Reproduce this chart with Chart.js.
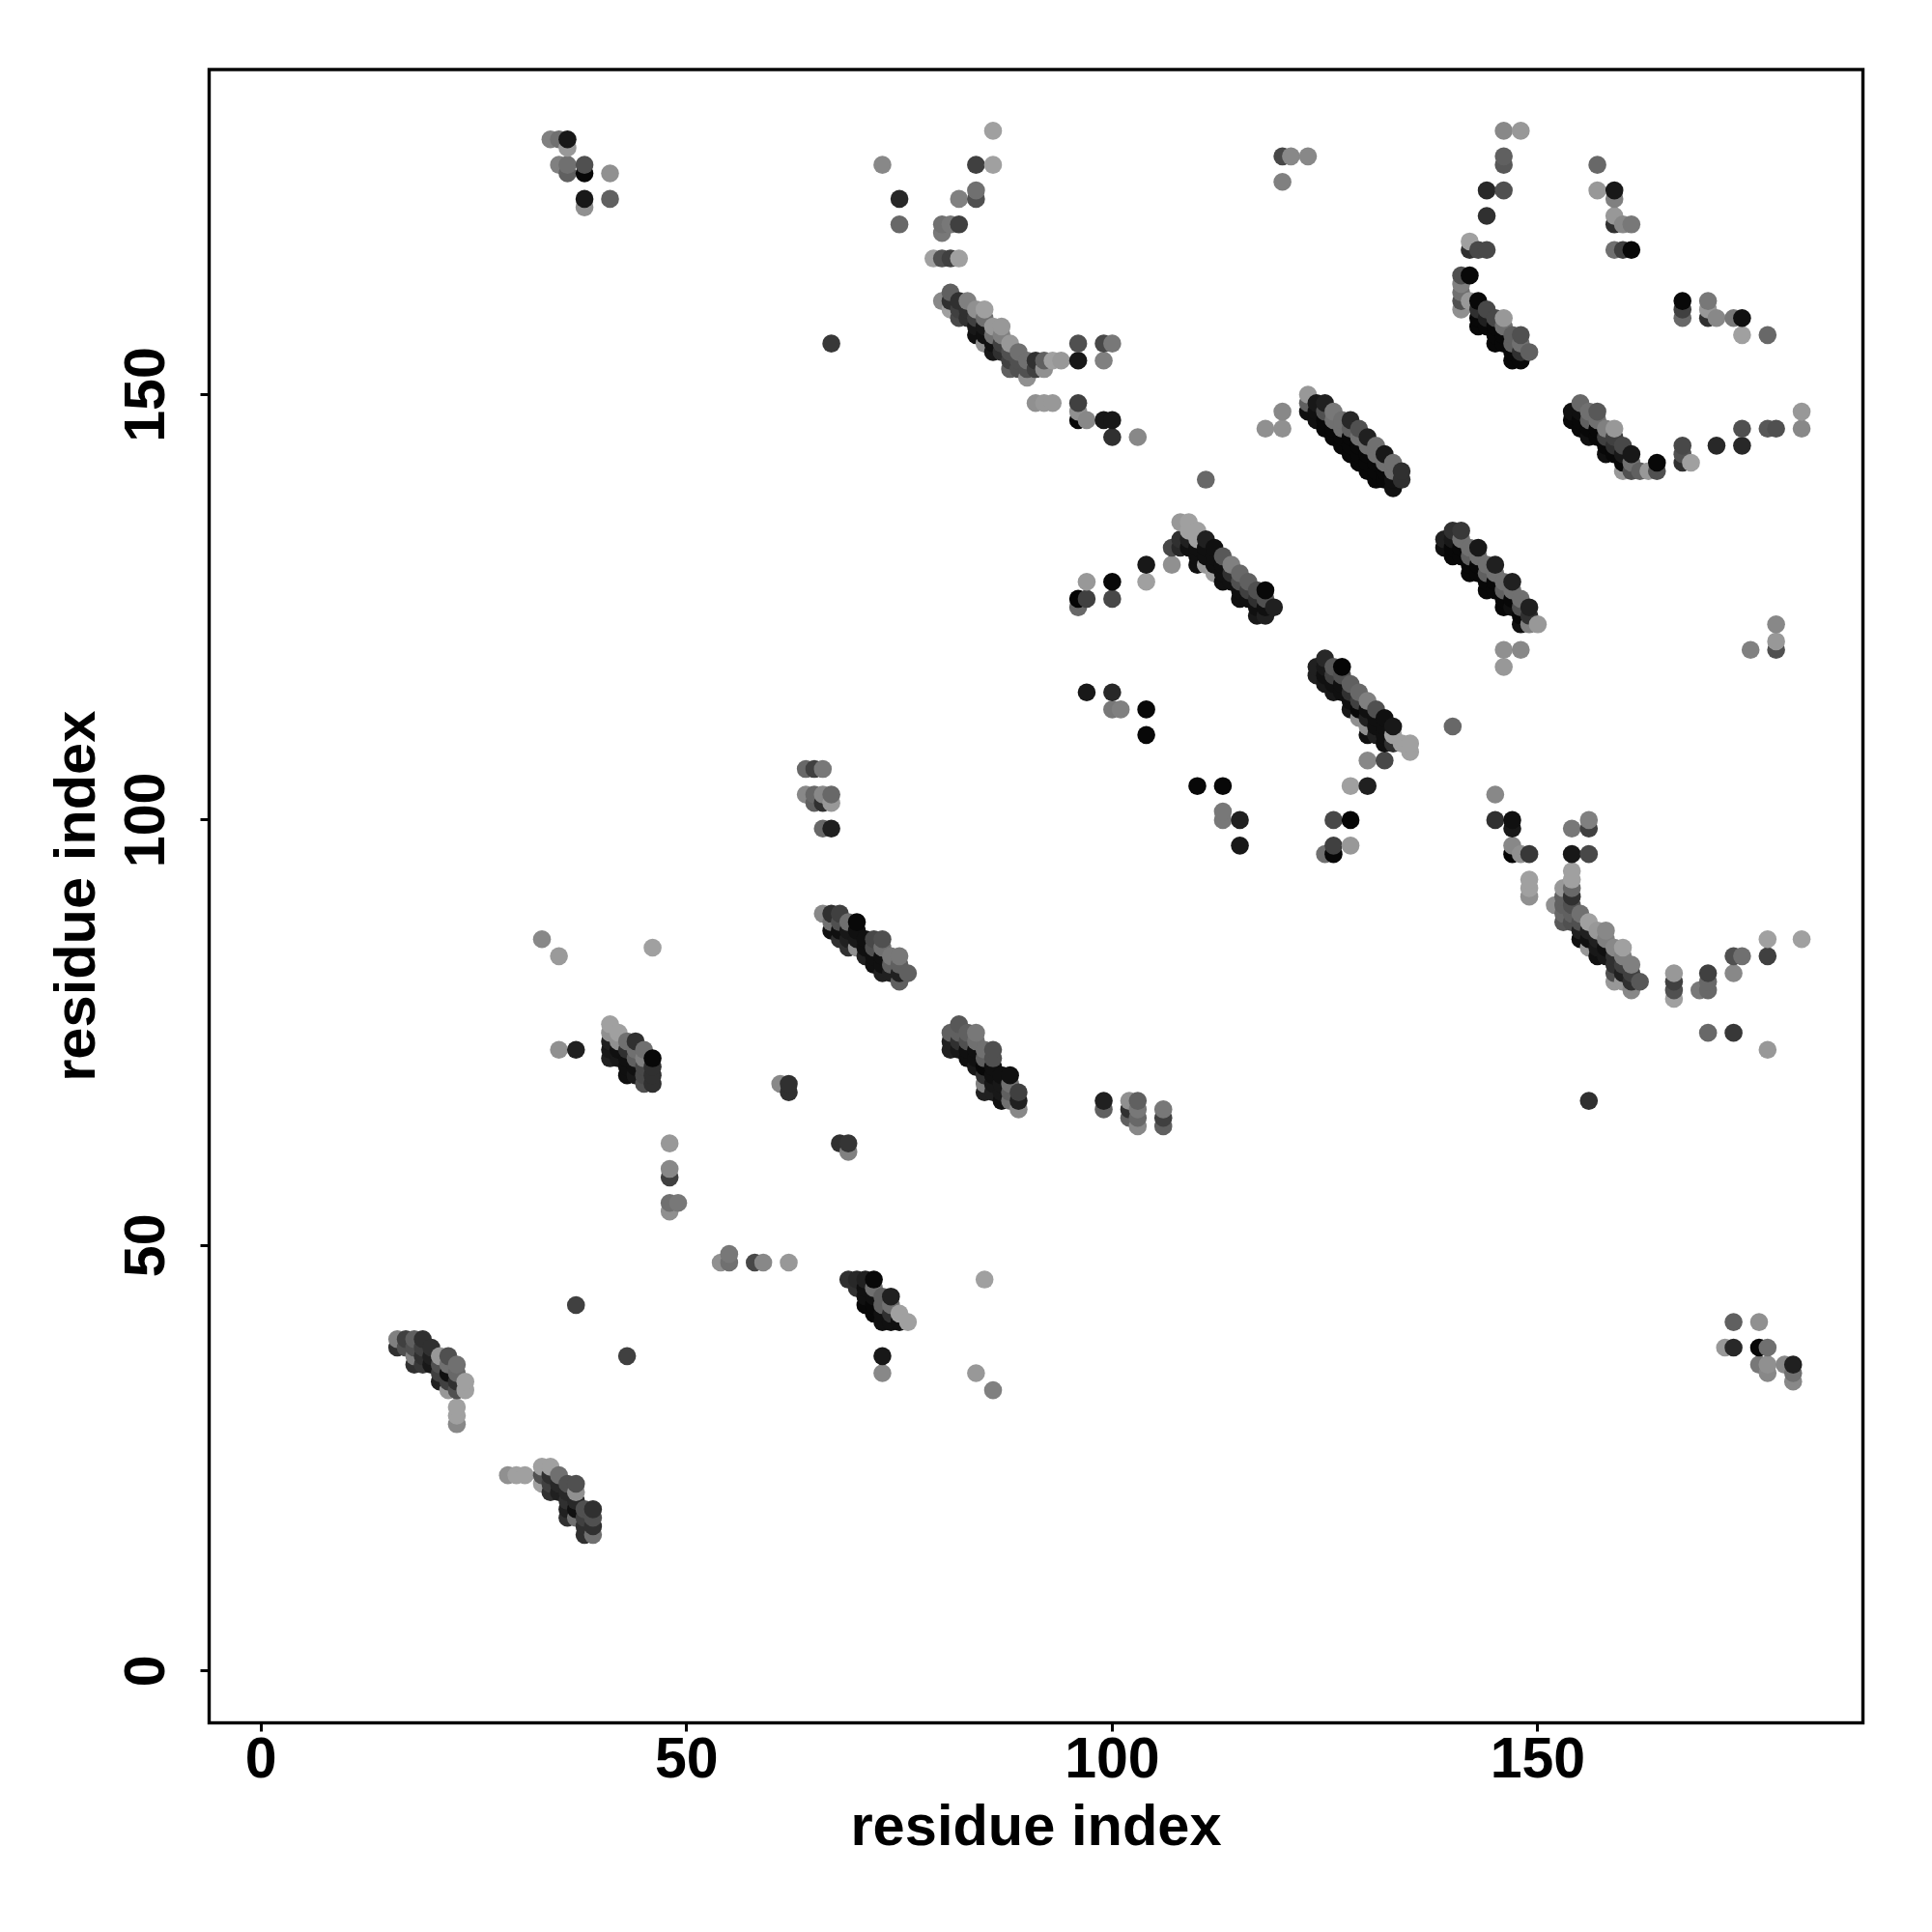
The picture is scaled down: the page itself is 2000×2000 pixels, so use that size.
<!DOCTYPE html>
<html><head><meta charset="utf-8">
<script src="https://cdn.jsdelivr.net/npm/chart.js@4"></script>
<style>html,body{margin:0;padding:0;background:#fff}canvas{display:block}</style>
</head><body><canvas id="c" width="2000" height="2000"></canvas>
<script>
// Each contact: [residue x, residue y, grey level]
const clusterLowA = [[16,38,0x30],[16,39,0x80],[17,38,0x50],[17,39,0x40],[18,36,0x30],[18,37,0x80],[18,38,0x50],[18,39,0x60],[19,36,0x38],[19,37,0x30],[19,38,0x40],[19,39,0x30],[20,36,0x18],[20,37,0x20],[20,38,0x30],[21,34,0x20],[21,35,0x40],[21,36,0x50],[21,37,0x98],[22,33,0x98],[22,34,0x40],[22,35,0x10],[22,36,0x70],[22,37,0x50],[23,29,0x88],[23,30,0xa0],[23,31,0xa0],[23,33,0x50],[23,34,0x30],[23,35,0x68],[23,36,0x70],[24,33,0xa0],[24,34,0xa0]];
const clusterLowB = [[29,23,0x90],[30,23,0xa0],[31,23,0xa0],[33,22,0xa0],[33,23,0x50],[33,24,0xa0],[34,21,0x30],[34,22,0x40],[34,23,0x30],[34,24,0xa0],[35,21,0x20],[35,22,0x28],[35,23,0x70],[36,18,0x30],[36,19,0x20],[36,20,0x30],[36,21,0x28],[36,22,0x50],[37,18,0x70],[37,19,0x10],[37,20,0x28],[37,21,0x90],[37,22,0x50],[38,16,0x30],[38,17,0x30],[38,18,0x40],[38,19,0x50],[39,16,0x70],[39,17,0x30],[39,18,0x50],[39,19,0x30]];
const isolatedLow = [[33,86,0x88],[35,84,0x9a],[46,85,0xa0],[35,73,0x90],[37,73,0x20],[37,43,0x40],[43,37,0x40],[48,62,0x98],[48,59,0x88],[48,58,0x40],[48,55,0x70],[48,54,0x90],[49,55,0x78],[54,48,0x90],[55,49,0x78],[55,48,0x70],[58,48,0x48],[59,48,0x88],[62,48,0x98],[61,69,0x88],[62,69,0x30],[62,68,0x30],[68,62,0x30],[69,62,0x35],[69,61,0x80],[73,37,0x18],[73,35,0x88],[85,46,0xa0],[84,35,0x98],[86,33,0x80]];
const bandC = [[41,76,0xa0],[41,75,0x90],[41,74,0x20],[41,73,0x18],[41,72,0x20],[42,75,0xa0],[42,74,0x90],[42,73,0x10],[42,72,0x18],[43,74,0x70],[43,73,0x30],[43,72,0x10],[43,71,0x10],[43,70,0x10],[44,74,0x30],[44,73,0x70],[44,72,0x60],[44,71,0x10],[44,70,0x18],[45,73,0x70],[45,72,0x80],[45,71,0x48],[45,70,0x48],[45,69,0x50],[46,72,0x08],[46,71,0x30],[46,70,0x30],[46,69,0x30]];
const bandD = [[66,89,0x88],[67,89,0x30],[67,88,0x70],[67,87,0x10],[68,89,0x40],[68,88,0x50],[68,87,0x10],[68,86,0x30],[69,88,0x70],[69,87,0x18],[69,86,0x20],[69,85,0x30],[70,88,0x08],[70,87,0x10],[70,86,0x18],[70,85,0x90],[71,86,0x10],[71,85,0x10],[71,84,0x20],[72,86,0x48],[72,85,0x50],[72,84,0x10],[72,83,0x10],[73,86,0x50],[73,85,0x70],[73,84,0x10],[73,83,0x10],[73,82,0x20],[74,84,0x78],[74,83,0x60],[74,82,0x20],[75,84,0x78],[75,83,0x60],[75,82,0x20],[75,81,0x60],[76,82,0x60]];
const bandD2 = [[69,46,0x30],[70,46,0x28],[70,45,0x30],[71,46,0x20],[71,45,0x10],[71,44,0x10],[71,43,0x08],[72,46,0x08],[72,45,0x70],[72,44,0x10],[72,43,0x08],[72,42,0x08],[73,44,0x60],[73,43,0x60],[73,42,0x10],[73,41,0x10],[74,44,0x20],[74,43,0x70],[74,42,0x30],[74,41,0x10],[75,42,0xa0],[75,41,0x10],[76,41,0xa0]];
const topLeftBits = [[64,106,0x68],[65,106,0x40],[66,106,0x78],[64,103,0x88],[65,103,0x68],[65,102,0x60],[66,103,0x88],[66,102,0x30],[67,103,0x68],[67,102,0x98],[66,99,0x68],[67,99,0x20],[34,180,0x80],[35,180,0x70],[36,180,0x18],[36,179,0x98],[35,177,0x80],[36,177,0x70],[36,176,0x60],[38,177,0x50],[38,176,0x08],[38,173,0x18],[38,172,0x90],[41,176,0x90],[41,173,0x60],[73,177,0x88],[75,173,0x28],[75,170,0x68],[67,156,0x38]];
const bandE = [[81,75,0x60],[81,74,0x20],[81,73,0x20],[82,76,0x58],[82,75,0x60],[82,74,0x30],[82,73,0x18],[83,75,0x60],[83,74,0x50],[83,73,0x10],[83,72,0x10],[84,75,0x78],[84,74,0x70],[84,73,0x10],[84,72,0x10],[84,71,0x18],[85,73,0x70],[85,72,0x60],[85,71,0x08],[85,70,0x30],[85,69,0x80],[85,68,0x20],[86,73,0x50],[86,72,0x50],[86,71,0x10],[86,70,0x10],[86,69,0x18],[86,68,0x20],[87,70,0x10],[87,69,0x18],[87,68,0x18],[87,67,0x10],[88,70,0x10],[88,69,0x70],[88,68,0x60],[88,67,0x70],[89,68,0x40],[89,67,0x20],[89,66,0x88]];
const midBits = [[99,67,0x20],[99,66,0x60],[102,67,0x90],[102,66,0x30],[102,65,0x60],[103,67,0x60],[103,66,0x78],[103,65,0x68],[103,64,0x88],[106,66,0x78],[106,65,0x40],[106,64,0x60],[104,110,0x08],[110,104,0x08],[97,128,0x98],[96,126,0x05],[96,125,0x68],[97,126,0x40],[100,128,0x08],[100,126,0x48],[104,130,0x18],[104,128,0xa0],[107,132,0x48],[107,130,0x90],[97,115,0x18],[100,115,0x28],[100,113,0x78],[101,113,0x80],[104,113,0x08],[113,104,0x08],[113,101,0x78],[113,100,0x78],[115,100,0x20],[115,97,0x18],[130,107,0x88],[132,107,0x48],[128,104,0xa0],[130,104,0x20],[126,100,0x48],[128,100,0x05],[125,96,0x70],[126,96,0x08],[126,97,0x40],[128,97,0x98],[140,111,0x68]];
const bandF = [[108,135,0x98],[108,133,0x30],[108,132,0x28],[109,135,0xa0],[109,134,0xa0],[109,133,0x20],[109,132,0x10],[110,134,0xa0],[110,133,0xa0],[110,132,0x10],[110,131,0x10],[110,130,0x10],[111,133,0x20],[111,132,0x10],[111,131,0x10],[111,130,0x98],[112,132,0x10],[112,131,0x10],[112,130,0x10],[112,129,0xa0],[113,131,0x58],[113,130,0x10],[113,129,0x10],[113,128,0x10],[114,130,0x80],[114,129,0x30],[114,128,0x10],[115,129,0x68],[115,128,0x50],[115,127,0x10],[115,126,0x10],[116,128,0x60],[116,127,0x40],[116,126,0x10],[117,127,0x50],[117,126,0x30],[117,125,0x10],[117,124,0x18],[118,127,0x08],[118,126,0x50],[118,125,0x10],[118,124,0x20],[119,125,0x20]];
const bandG = [[124,118,0x20],[124,117,0x20],[125,119,0x28],[125,118,0x18],[125,117,0x10],[125,116,0x18],[126,118,0x58],[126,117,0x40],[126,116,0x10],[126,115,0x18],[127,118,0x05],[127,117,0x50],[127,116,0x10],[127,115,0x10],[128,116,0x60],[128,115,0x30],[128,114,0x10],[128,113,0x18],[129,115,0x68],[129,114,0x40],[129,113,0x08],[129,112,0x90],[130,114,0x80],[130,113,0x10],[130,112,0x20],[130,111,0x90],[130,110,0x10],[131,113,0x50],[131,112,0x10],[131,111,0x10],[131,110,0x20],[132,112,0x10],[132,111,0x10],[132,110,0x10],[132,109,0x10],[133,111,0x18],[133,110,0xa0],[133,109,0x30],[134,109,0xa0],[135,109,0xa0],[135,108,0xa0]];
const bandH = [[118,146,0x90],[120,148,0x88],[120,146,0x90],[123,150,0x98],[123,149,0x60],[123,148,0x10],[124,149,0x18],[124,148,0x10],[124,147,0x10],[125,149,0x20],[125,148,0x50],[125,147,0x08],[125,146,0x08],[126,148,0x78],[126,147,0x70],[126,146,0x08],[126,145,0x08],[127,147,0x70],[127,146,0x70],[127,145,0x08],[127,144,0x08],[128,147,0x28],[128,146,0x60],[128,145,0x08],[128,144,0x08],[128,143,0x08],[129,146,0x50],[129,145,0x70],[129,144,0x08],[129,143,0x08],[129,142,0x08],[130,145,0x20],[130,144,0x70],[130,143,0x08],[130,142,0x08],[130,141,0x08],[131,144,0x70],[131,143,0x70],[131,142,0x08],[131,141,0x08],[131,140,0x08],[132,143,0x18],[132,142,0x70],[132,141,0x08],[132,140,0x08],[133,142,0x70],[133,141,0x70],[133,140,0x10],[133,139,0x10],[134,141,0x30],[134,140,0x30]];
const bandI = [[139,133,0x20],[139,132,0x10],[140,134,0x30],[140,133,0x18],[140,132,0x08],[140,131,0x08],[141,134,0x38],[141,133,0x70],[141,132,0x08],[141,131,0x08],[142,132,0x70],[142,131,0x60],[142,130,0x08],[142,129,0x08],[143,132,0x18],[143,131,0x70],[143,130,0x08],[143,129,0x08],[144,130,0x70],[144,129,0x60],[144,128,0x08],[144,127,0x08],[145,130,0x20],[145,129,0x70],[145,128,0x08],[145,127,0x08],[146,128,0x70],[146,127,0x60],[146,126,0x08],[146,125,0x08],[147,128,0x20],[147,127,0x70],[147,126,0x08],[147,125,0x10],[148,126,0x70],[148,125,0x50],[148,124,0x08],[148,123,0x10],[149,125,0x20],[149,124,0x30],[149,123,0x80],[150,123,0x98],[146,120,0x90],[148,120,0x88],[146,118,0x98],[178,123,0x88],[178,121,0x98],[178,120,0x50],[175,120,0x80]];
const bandJ = [[145,103,0x88],[145,100,0x30],[147,100,0x10],[147,99,0x18],[147,97,0x88],[147,96,0x05],[148,96,0x90],[149,96,0x38],[149,93,0xa0],[149,92,0xa0],[149,91,0x90],[154,99,0x78],[156,100,0x80],[156,99,0x40],[154,96,0x18],[156,96,0x48],[152,90,0x90],[153,92,0x98],[153,91,0x60],[153,90,0x60],[153,89,0x68],[153,88,0x58],[154,94,0xa0],[154,93,0xa0],[154,92,0x68],[154,91,0x30],[154,90,0x50],[154,89,0x60],[154,88,0x50],[155,89,0x70],[155,88,0x50],[155,87,0x20],[155,86,0x10],[156,88,0xa0],[156,87,0x20],[156,86,0x10],[156,85,0x98],[157,87,0x98],[157,86,0x20],[157,85,0x18],[157,84,0x10],[158,87,0x88],[158,86,0x80],[158,85,0x10],[158,84,0x18],[159,85,0x88],[159,84,0x30],[159,83,0x30],[159,82,0x50],[159,81,0x98],[160,85,0xa0],[160,84,0x80],[160,83,0x40],[160,82,0x20],[160,81,0x98],[161,83,0x80],[161,82,0x40],[161,81,0x30],[161,80,0x88],[162,81,0x58]];
const tailJ = [[166,82,0x98],[166,81,0x40],[166,80,0x50],[166,79,0xa0],[169,80,0x78],[170,82,0x40],[170,81,0x68],[170,80,0x68],[173,84,0x50],[174,84,0x70],[173,82,0x88],[177,86,0xa0],[177,84,0x40],[181,86,0xa0],[170,75,0x68],[173,75,0x38],[177,73,0x98],[156,67,0x30],[173,41,0x60],[176,41,0x90],[172,38,0x98],[173,38,0x28],[176,38,0x08],[177,38,0x70],[176,36,0x78],[177,36,0x90],[177,35,0x88],[179,36,0x88],[180,36,0x20],[180,35,0x70],[180,34,0x88]];
const arcTopLeft = [[86,181,0xa0],[84,177,0x40],[86,177,0xa0],[84,174,0x70],[84,173,0x50],[82,173,0x80],[80,170,0x70],[80,169,0x78],[81,170,0x78],[82,170,0x40],[79,166,0xa0],[80,166,0x50],[81,166,0x40],[82,166,0xa0],[80,161,0x88],[81,162,0x60],[81,161,0x30],[81,160,0xa0],[82,161,0x30],[82,160,0x40],[82,159,0x48],[83,161,0x80],[83,160,0x30],[83,159,0x30],[84,160,0x90],[84,159,0x40],[84,158,0x18],[84,157,0x10],[85,160,0xa0],[85,159,0x70],[85,158,0x18],[85,157,0x10],[85,156,0x90],[86,158,0x98],[86,157,0x70],[86,156,0x10],[86,155,0x18],[87,158,0x98],[87,157,0x80],[87,156,0x40],[87,155,0x30],[88,156,0x98],[88,155,0x50],[88,154,0x40],[88,153,0x60],[89,155,0x70],[89,154,0x50],[89,153,0x50],[90,154,0x70],[90,153,0x50],[90,152,0x90],[91,154,0x30],[91,153,0x40],[92,154,0x60],[92,153,0x90],[93,154,0xa0],[94,154,0x98],[96,156,0x50],[96,154,0x18],[99,156,0x48],[100,156,0x78],[99,154,0x80],[91,149,0x90],[92,149,0x98],[93,149,0x98],[96,149,0x40],[96,148,0x90],[96,147,0x08],[97,147,0x88],[99,147,0x18],[100,147,0x18],[100,145,0x30],[103,145,0x88],[111,140,0x68],[120,178,0x48],[121,178,0x88],[123,178,0x88],[120,175,0x80]];
const arcTopRight = [[146,181,0x88],[148,181,0x98],[146,178,0x60],[146,177,0x58],[144,174,0x28],[146,174,0x50],[144,171,0x30],[142,168,0xa0],[142,167,0x30],[143,167,0x48],[144,167,0x48],[141,164,0x50],[142,164,0x08],[141,163,0x80],[141,162,0x70],[141,161,0x50],[141,160,0x90],[142,161,0x98],[143,161,0x08],[143,160,0x30],[143,159,0x08],[143,158,0x08],[144,160,0x48],[144,159,0x20],[144,158,0x08],[145,159,0x48],[145,158,0x08],[145,157,0x08],[145,156,0x08],[146,159,0x98],[146,158,0x70],[146,157,0x08],[146,156,0x08],[147,157,0x60],[147,156,0x60],[147,155,0x08],[147,154,0x08],[148,157,0x50],[148,156,0x70],[148,155,0x30],[148,154,0x08],[149,155,0x60]];
const arcRight = [[154,148,0x10],[154,147,0x08],[155,149,0x68],[155,148,0x10],[155,147,0x08],[155,146,0x08],[156,148,0x70],[156,147,0x60],[156,146,0x08],[156,145,0x10],[157,148,0x58],[157,147,0x70],[157,146,0x08],[157,145,0x08],[158,146,0x80],[158,145,0x40],[158,144,0x08],[158,143,0x10],[159,146,0x98],[159,145,0x40],[159,144,0x30],[159,143,0x08],[160,144,0x48],[160,143,0x18],[160,142,0x08],[160,141,0x98],[161,143,0x18],[161,142,0x70],[161,141,0x50],[162,141,0x60],[163,141,0x98],[164,142,0x08],[164,141,0x50],[167,144,0x48],[167,143,0x50],[167,142,0x30],[168,142,0xa0],[171,144,0x28],[174,146,0x50],[174,144,0x28],[177,146,0x58],[178,146,0x50],[181,148,0x98],[181,146,0x88]];
const upperRightBits = [[157,177,0x68],[157,174,0x98],[159,174,0x18],[159,173,0x80],[159,171,0x98],[159,170,0x30],[160,170,0x88],[161,170,0x78],[159,167,0x70],[160,167,0x40],[161,167,0x08],[167,161,0x08],[167,160,0x40],[167,159,0x68],[170,161,0x78],[170,160,0x98],[170,159,0x30],[171,159,0x88],[173,159,0x78],[174,159,0x10],[174,157,0xa0],[177,157,0x68]];
const tickValues = [0, 50, 100, 150];
const axisTitle = "residue index";

const contacts = [...clusterLowA, ...clusterLowB, ...isolatedLow, ...bandC, ...bandD, ...bandD2, ...topLeftBits, ...bandE, ...midBits, ...bandF, ...bandG, ...bandH, ...bandI, ...bandJ, ...tailJ, ...arcTopLeft, ...arcTopRight, ...arcRight, ...upperRightBits]
  .sort((a, b) => a[0] - b[0] || a[1] - b[1]);

const frame = {
  id: 'frame',
  afterDraw(chart) {
    const {ctx, chartArea: a} = chart;
    ctx.save();
    ctx.strokeStyle = '#000';
    ctx.lineWidth = 3.4;
    ctx.strokeRect(a.left, a.top, a.right - a.left, a.bottom - a.top);
    ctx.restore();
  }
};
const titleFont = {family: '"Liberation Sans", Arial, sans-serif', weight: 'bold', size: 59.6};
const tickFont = {family: '"Liberation Sans", Arial, sans-serif', weight: 'bold', size: 59};
const grid = {drawOnChartArea: false, drawTicks: true, tickLength: 9, tickWidth: 3, tickColor: '#000'};
const setTicks = s => { s.ticks = tickValues.map(v => ({value: v})); };

new Chart(document.getElementById('c'), {
  type: 'scatter',
  data: {datasets: [{
    data: contacts.map(c => ({x: c[0], y: c[1]})),
    pointRadius: 9.3,
    pointBorderWidth: 0,
    pointHoverRadius: 9.3,
    pointBackgroundColor: contacts.map(c => `rgb(${c[2]},${c[2]},${c[2]})`)
  }]},
  options: {
    responsive: false,
    devicePixelRatio: 1,
    animation: false,
    layout: {padding: {top: 72, right: 71.5, left: 0, bottom: 0}},
    plugins: {legend: {display: false}, tooltip: {enabled: false}},
    scales: {
      x: {
        type: 'linear', min: -6.1, max: 188.2,
        afterBuildTicks: setTicks,
        afterFit: s => { s.height = 216.5; },
        grid, border: {display: false},
        ticks: {font: tickFont, color: '#000', padding: -4.5, maxRotation: 0, callback: v => String(v)},
        title: {display: true, text: axisTitle, font: titleFont, color: '#000', padding: {top: 0, bottom: 70.5}}
      },
      y: {
        type: 'linear', min: -6.1, max: 188.2,
        afterBuildTicks: setTicks,
        afterFit: s => { s.width = 216.5; },
        grid, border: {display: false},
        ticks: {font: tickFont, color: '#000', padding: 5, minRotation: 90, maxRotation: 90, crossAlign: 'center', callback: v => String(v)},
        title: {display: true, text: axisTitle, font: titleFont, color: '#000', padding: {top: 45.5, bottom: 0}}
      }
    }
  },
  plugins: [frame]
});
</script></body></html>
